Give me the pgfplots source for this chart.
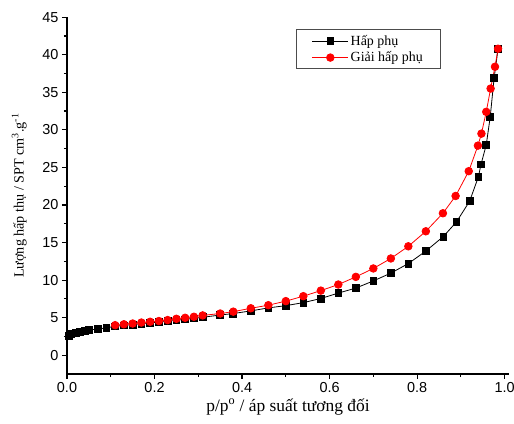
\documentclass[border=0pt]{standalone}
\usepackage{fontspec}
\setmainfont{Liberation Serif}
\newfontfamily\arialfont{Liberation Sans}
\usepackage{pgfplots}
\pgfplotsset{compat=1.18}
\begin{document}
\begin{tikzpicture}
\useasboundingbox (-67bp,-50bp) rectangle (447bp,374bp);
\begin{axis}[
 scale only axis, width=442bp, height=356.8bp,
 xmin=0, xmax=1.01, ymin=-2.5, ymax=45,
 axis x line*=bottom, axis y line*=left,
 axis line style={line width=1.4bp, -},
 tick align=outside, tick style={line width=1.2bp, black},
 major tick length=5bp, minor tick length=3bp,
 minor tick num=1,
 xtick={0,0.2,0.4,0.6,0.8,1.0}, ytick={0,5,...,45},
 xticklabel style={/pgf/number format/.cd, fixed, fixed zerofill, precision=1},
 ticklabel style={font=\arialfont\fontsize{14.5}{16}\selectfont},
 /pgf/number format/assume math mode=true,
 xlabel={p/p\textsuperscript{o} / áp suất tương đối},
 ylabel={Lượng hấp thụ / SPT cm\textsuperscript{3}.g\textsuperscript{-1}},
 xlabel style={font=\fontsize{17.5}{19}\selectfont, yshift=1bp},
 ylabel style={font=\fontsize{14.2}{16}\selectfont, yshift=9bp},
 legend style={at={(0.517,0.966)}, anchor=north west, draw=black!70, line width=0.8bp,
   font=\fontsize{14}{16}\selectfont, inner xsep=16bp, inner ysep=3.5bp, row sep=1bp,
   cells={anchor=west}},
 legend image code/.code={\draw[mark repeat=2,mark phase=2,#1] plot coordinates {(0bp,0bp) (18bp,0bp) (36bp,0bp)};},
]
\addplot[black, line width=0.8bp, mark=square*, mark size=3.4bp, mark options={solid}] coordinates {
(0.005,2.6) (0.01,2.8) (0.02,3.0) (0.03,3.12) (0.04,3.25) (0.05,3.35) (0.07,3.48) (0.09,3.65)
(0.11,3.85) (0.13,3.97) (0.15,4.08) (0.17,4.2) (0.19,4.3) (0.21,4.4) (0.23,4.52) (0.25,4.65)
(0.27,4.78) (0.29,4.9) (0.31,5.05) (0.35,5.35) (0.38,5.55) (0.42,5.9) (0.46,6.3) (0.50,6.6)
(0.54,7.0) (0.58,7.55) (0.62,8.27) (0.66,8.94) (0.70,9.89) (0.74,10.93) (0.78,12.2) (0.82,13.87)
(0.86,15.8) (0.89,17.75) (0.92,20.5) (0.94,23.74) (0.946,25.4) (0.958,28.0) (0.967,31.7)
(0.976,36.9) (0.985,40.8)
};
\addlegendentry{Hấp phụ}
\addplot[red, line width=0.8bp, mark=*, mark size=3.8bp, mark options={solid}] coordinates {
(0.985,40.8) (0.978,38.4) (0.968,35.5) (0.958,32.4) (0.947,29.5) (0.939,27.9) (0.918,24.5)
(0.888,21.2) (0.859,18.9) (0.82,16.5) (0.78,14.5) (0.74,12.88) (0.70,11.55) (0.66,10.43)
(0.62,9.41) (0.58,8.6) (0.54,7.86) (0.50,7.2) (0.46,6.66) (0.42,6.25) (0.38,5.8) (0.35,5.55)
(0.31,5.3) (0.29,5.12) (0.27,4.98) (0.25,4.85) (0.23,4.68) (0.21,4.55) (0.19,4.45) (0.17,4.35)
(0.15,4.22) (0.13,4.12) (0.11,4.0)
};
\addlegendentry{Giải hấp phụ}
\end{axis}
\end{tikzpicture}
\end{document}
